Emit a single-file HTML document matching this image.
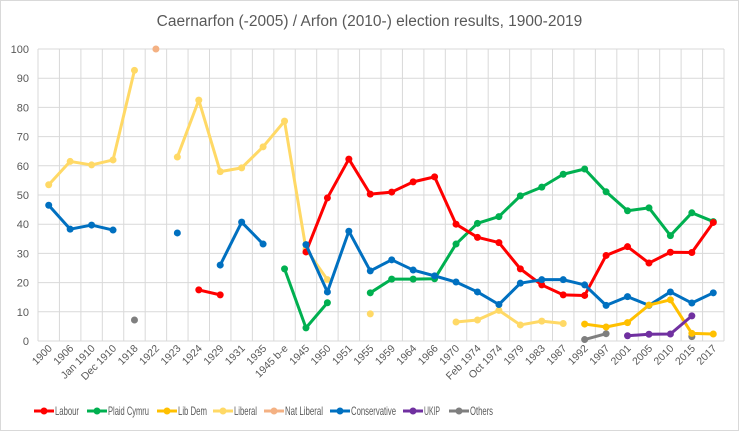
<!DOCTYPE html>
<html><head><meta charset="utf-8"><style>
html,body{margin:0;padding:0;background:#fff}
svg{display:block;font-family:"Liberation Sans",sans-serif}
</style></head><body>
<svg id="c" width="739" height="431" xmlns="http://www.w3.org/2000/svg">
<rect x="0.5" y="0.5" width="738" height="430" fill="#fff" stroke="#d9d9d9"/>
<text x="369.5" y="26" text-anchor="middle" font-size="15.5" fill="#595959">Caernarfon (-2005) / Arfon (2010-) election results, 1900-2019</text>
<g id="g"></g>
</svg>
<script>
var cats=["1900","1906","Jan 1910","Dec 1910","1918","1922","1923","1924","1929","1931","1935","1945 b-e","1945","1950","1951","1955","1959","1964","1966","1970","Feb 1974","Oct 1974","1979","1983","1987","1992","1997","2001","2005","2010","2015","2017"];
var L=38,R=724,T=49,B=341,n=32,w=(R-L)/n;
function X(i){return L+w*(i+0.5)}function Y(v){return B-(B-T)*v/100}
var s='';
for(var k=0;k<=10;k++){var y=Y(k*10);s+='<line x1="'+L+'" x2="'+R+'" y1="'+y+'" y2="'+y+'" stroke="#d9d9d9"/>';
s+='<text x="29" y="'+(y+4)+'" text-anchor="end" font-size="11" fill="#595959">'+k*10+'</text>';}
for(var i=0;i<=n;i++){var x=L+w*i;s+='<line x1="'+x+'" x2="'+x+'" y1="'+T+'" y2="'+B+'" stroke="#d9d9d9"/>';}
cats.forEach(function(c,i){var x=X(i)+4,y=349;s+='<text transform="translate('+x+','+y+') rotate(-45)" text-anchor="end" font-size="10.5" fill="#595959">'+c+'</text>';});
var N=null;
function ser(col,d){var segs=[],cur=[];d.forEach(function(v,i){if(v===N){if(cur.length)segs.push(cur);cur=[]}else cur.push([X(i),Y(v)])});if(cur.length)segs.push(cur);
segs.forEach(function(sg){if(sg.length>1)s+='<polyline fill="none" stroke="'+col+'" stroke-width="3" stroke-linejoin="round" points="'+sg.map(function(p){return p.join(',')}).join(' ')+'"/>';
sg.forEach(function(p){s+='<circle cx="'+p[0]+'" cy="'+p[1]+'" r="3.5" fill="'+col+'"/>'})});}
function arr(m){var a=[];for(var i=0;i<n;i++)a.push(m[i]===undefined?N:m[i]);return a}
ser('#ffd966',arr({0:53.5,1:61.5,2:60.3,3:62,4:92.7,6:63,7:82.5,8:58,9:59.3,10:66.5,11:75.3,12:31.5,13:21,15:9.3,19:6.5,20:7.2,21:10.5,22:5.5,23:6.8,24:6}));
ser('#f4b183',arr({5:100}));
ser('#7f7f7f',arr({4:7.2,25:0.5,26:2.5,30:1.5}));
ser('#00b050',arr({11:24.7,12:4.5,13:13.1,15:16.5,16:21.2,17:21.2,18:21.3,19:33.2,20:40.3,21:42.6,22:49.7,23:52.7,24:57.1,25:58.9,26:51.1,27:44.6,28:45.6,29:36.1,30:43.9,31:40.9}));
ser('#ff0000',arr({7:17.5,8:15.8,12:30.5,13:49,14:62.3,15:50.3,16:51,17:54.5,18:56.2,19:40,20:35.5,21:33.7,22:24.7,23:19.2,24:15.8,25:15.6,26:29.3,27:32.3,28:26.7,29:30.4,30:30.3,31:40.6}));
ser('#0070c0',arr({0:46.5,1:38.3,2:39.7,3:38,6:37,8:26,9:40.7,10:33.2,12:33,13:16.8,14:37.6,15:24,16:27.8,17:24.3,18:22.3,19:20.2,20:16.8,21:12.5,22:19.8,23:21,24:21,25:19.2,26:12.2,27:15.2,28:12.2,29:16.8,30:13,31:16.5}));
ser('#ffc000',arr({25:5.8,26:4.8,27:6.3,28:12.3,29:14.1,30:2.6,31:2.4}));
ser('#7030a0',arr({27:1.8,28:2.3,29:2.4,30:8.6}));
var leg=[['Labour','#ff0000',34,24],['Plaid Cymru','#00b050',87,41],['Lib Dem','#ffc000',157,29],['Liberal','#ffd966',213,23],['Nat Liberal','#f4b183',264,38],['Conservative','#0070c0',330,45],['UKIP','#7030a0',403,16],['Others','#7f7f7f',449,23]];
leg.forEach(function(l){var x=l[2],y=411;s+='<line x1="'+x+'" x2="'+(x+20)+'" y1="'+y+'" y2="'+y+'" stroke="'+l[1]+'" stroke-width="3"/><circle cx="'+(x+10)+'" cy="'+y+'" r="3.5" fill="'+l[1]+'"/><text x="'+(x+21)+'" y="'+(y+4)+'" font-size="12" textLength="'+l[3]+'" lengthAdjust="spacingAndGlyphs" fill="#595959">'+l[0]+'</text>';});
document.getElementById('g').innerHTML=s;
</script>
</body></html>
